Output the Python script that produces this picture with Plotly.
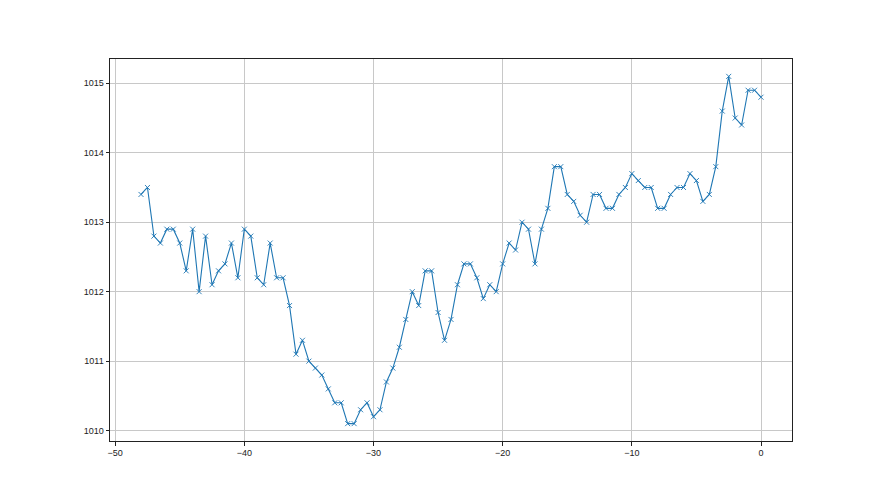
import plotly.graph_objects as go

x_vals = [-48 + 0.5 * i for i in range(97)]
pressure = [
    1013.4, 1013.5, 1012.8, 1012.7, 1012.9, 1012.9, 1012.7, 1012.3, 1012.9, 1012.0,
    1012.8, 1012.1, 1012.3, 1012.4, 1012.7, 1012.2, 1012.9, 1012.8, 1012.2, 1012.1,
    1012.7, 1012.2, 1012.2, 1011.8, 1011.1, 1011.3, 1011.0, 1010.9, 1010.8, 1010.6,
    1010.4, 1010.4, 1010.1, 1010.1, 1010.3, 1010.4, 1010.2, 1010.3, 1010.7, 1010.9,
    1011.2, 1011.6, 1012.0, 1011.8, 1012.3, 1012.3, 1011.7, 1011.3, 1011.6, 1012.1,
    1012.4, 1012.4, 1012.2, 1011.9, 1012.1, 1012.0, 1012.4, 1012.7, 1012.6, 1013.0,
    1012.9, 1012.4, 1012.9, 1013.2, 1013.8, 1013.8, 1013.4, 1013.3, 1013.1, 1013.0,
    1013.4, 1013.4, 1013.2, 1013.2, 1013.4, 1013.5, 1013.7, 1013.6, 1013.5, 1013.5,
    1013.2, 1013.2, 1013.4, 1013.5, 1013.5, 1013.7, 1013.6, 1013.3, 1013.4, 1013.8,
    1014.6, 1015.1, 1014.5, 1014.4, 1014.9, 1014.9, 1014.8,
]
x_ticks = [-50, -40, -30, -20, -10, 0]
y_ticks = [1010, 1011, 1012, 1013, 1014, 1015]

fig = go.Figure(go.Scatter(
    x=x_vals, y=pressure, mode="lines+markers",
    line=dict(color="#1f77b4", width=1.1),
    marker=dict(symbol="x-thin", size=5, line=dict(color="#1f77b4", width=0.9)),
))

axis_common = dict(
    showline=True, linecolor="#222222", linewidth=1, mirror=True,
    showgrid=True, gridcolor="#c8c8c8", gridwidth=0.8,
    ticks="outside", ticklen=3.5, tickcolor="#222222", tickwidth=0.8,
    tickfont=dict(family="Liberation Sans, Arial, sans-serif", size=9, color="#222222"),
    zeroline=False,
)

fig.update_layout(
    width=880, height=495,
    margin=dict(l=102, r=96, t=51, b=62),
    paper_bgcolor="white", plot_bgcolor="white",
    showlegend=False,
    xaxis=dict(range=[-50.4, 2.4], tickvals=x_ticks,
               ticktext=["\u221250", "\u221240", "\u221230", "\u221220", "\u221210", "0"],
               **axis_common),
    yaxis=dict(range=[1009.85, 1015.35], tickvals=y_ticks,
               ticktext=[str(t) for t in y_ticks], **axis_common),
)

fig.write_html("out.html")
